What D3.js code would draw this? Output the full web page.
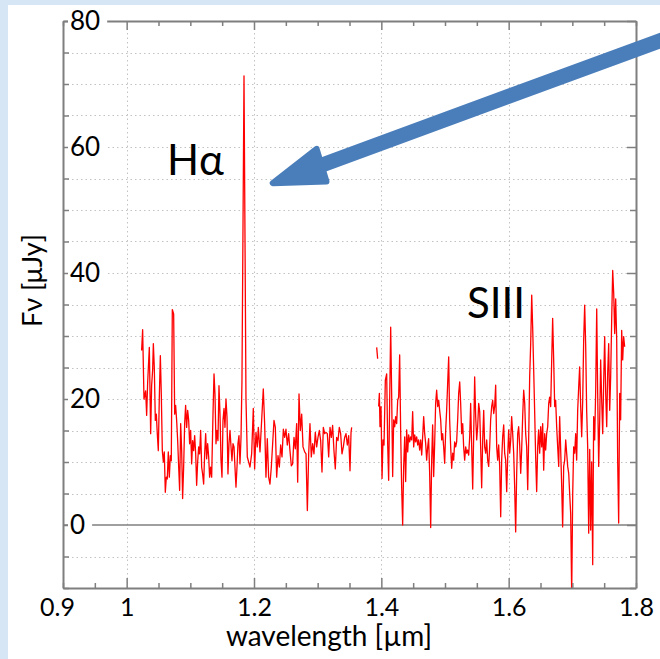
<!DOCTYPE html>
<html>
<head>
<meta charset="utf-8">
<script src="https://cdn.jsdelivr.net/npm/d3@7"></script>
<style>
  body { margin: 0; background: #d7e6f5; }
  svg { display: block; }
</style>
</head>
<body>
<div id="chart"></div>
<script>
const width = 660;
const height = 659;
const margin = { top: 21, right: 24, bottom: 71, left: 63 };

// J-band segment (wavelength in µm, flux in µJy)
const seg1Wl = [1.0235,1.0251,1.0272,1.0298,1.0314,1.0330,1.0356,1.0377,1.0392,1.0408,1.0419,1.0434,1.0450,1.0466,1.0481,1.0497,1.0513,1.0529,1.0544,1.0560,1.0576,1.0591,1.0607,1.0623,1.0638,1.0654,1.0670,1.0686,1.0701,1.0717,1.0738,1.0754,1.0769,1.0785,1.0801,1.0817,1.0832,1.0848,1.0864,1.0879,1.0895,1.0911,1.0926,1.0942,1.0958,1.0974,1.0989,1.1005,1.1021,1.1036,1.1052,1.1068,1.1084,1.1099,1.1115,1.1131,1.1146,1.1162,1.1178,1.1193,1.1209,1.1225,1.1241,1.1256,1.1272,1.1288,1.1303,1.1319,1.1335,1.1356,1.1372,1.1387,1.1403,1.1419,1.1434,1.1450,1.1466,1.1481,1.1497,1.1513,1.1529,1.1544,1.1560,1.1576,1.1591,1.1607,1.1623,1.1639,1.1654,1.1670,1.1686,1.1701,1.1717,1.1733,1.1748,1.1764,1.1780,1.1796,1.1811,1.1843,1.1874,1.1895,1.1916,1.1937,1.1963,1.1989,1.2010,1.2031,1.2052,1.2068,1.2094,1.2120,1.2146,1.2167,1.2188,1.2209,1.2230,1.2251,1.2272,1.2293,1.2314,1.2335,1.2356,1.2377,1.2398,1.2419,1.2440,1.2461,1.2482,1.2502,1.2523,1.2544,1.2565,1.2586,1.2607,1.2628,1.2649,1.2670,1.2686,1.2707,1.2728,1.2749,1.2770,1.2796,1.2817,1.2838,1.2859,1.2879,1.2900,1.2921,1.2942,1.2963,1.2984,1.3005,1.3026,1.3047,1.3068,1.3089,1.3110,1.3131,1.3152,1.3173,1.3194,1.3215,1.3235,1.3256,1.3277,1.3298,1.3319,1.3340,1.3361,1.3382,1.3403,1.3424,1.3445,1.3466,1.3487,1.3508,1.3524,1.3534];
const seg1Flux = [27.7,31.0,20.0,21.3,17.4,22.7,28.2,14.5,22.1,24.6,28.8,25.0,16.6,17.6,14.5,11.8,20.3,26.9,20.8,11.8,10.0,11.6,5.2,7.6,7.3,11.6,7.6,11.0,10.2,34.2,33.5,17.6,19.0,16.6,13.4,9.2,5.5,16.1,11.8,4.2,9.2,16.1,19.0,15.5,18.2,16.6,12.9,15.0,9.7,13.4,11.8,14.2,11.3,6.3,10.0,12.4,11.3,15.0,9.2,8.1,6.5,11.3,14.5,10.5,12.9,10.8,7.6,9.2,7.6,17.6,24.0,20.8,12.9,15.0,13.4,22.1,17.6,10.5,7.6,16.6,18.5,15.5,20.0,17.1,8.1,12.9,15.0,12.4,10.2,12.9,12.4,9.2,6.0,9.2,12.9,14.2,9.7,13.9,22.9,71.3,20.0,10.8,10.0,9.2,11.3,18.5,8.9,14.7,12.4,15.5,11.6,16.6,21.6,16.1,7.6,13.7,7.6,6.5,9.2,12.9,16.6,15.5,7.6,11.0,9.2,12.7,10.8,15.2,13.9,15.2,12.7,14.5,11.8,9.4,9.7,13.9,12.1,16.1,6.8,20.8,15.0,17.6,12.4,11.6,11.3,2.3,11.3,16.1,10.8,12.9,11.3,14.7,12.4,13.9,15.0,13.4,8.4,15.5,14.5,14.7,14.5,10.8,15.5,13.9,15.8,11.8,8.9,13.9,13.4,15.5,14.5,11.3,12.4,13.9,14.5,12.7,14.2,8.6,14.7,15.5];

// H-band segment (null marks a gap in the data)
const seg2Wl = [1.3927,1.3942,1.3950,1.3958,1.3969,1.3979,1.3995,1.4011,1.4026,1.4042,1.4063,1.4084,1.4100,1.4115,1.4131,1.4147,1.4162,1.4178,1.4194,1.4210,1.4225,1.4241,1.4257,1.4272,1.4288,1.4304,1.4319,1.4335,1.4351,1.4367,1.4382,1.4398,1.4414,1.4429,1.4445,1.4461,1.4477,1.4492,1.4508,1.4524,1.4539,1.4555,1.4571,1.4586,1.4602,1.4618,1.4634,1.4649,1.4665,1.4681,1.4696,1.4712,1.4728,1.4743,1.4759,1.4775,1.4791,1.4806,1.4822,1.4838,1.4853,1.4869,1.4885,1.4901,1.4916,1.4932,1.4948,1.4963,1.4979,1.4995,1.5011,1.5026,1.5042,1.5058,1.5073,1.5089,1.5105,1.5121,1.5136,1.5152,1.5168,1.5183,1.5199,1.5215,1.5231,1.5246,1.5262,1.5278,1.5293,1.5309,1.5325,1.5340,1.5356,1.5372,1.5388,1.5403,1.5419,1.5435,1.5450,1.5466,1.5482,1.5498,1.5513,1.5529,1.5545,1.5560,1.5576,1.5592,1.5608,1.5623,1.5639,1.5655,1.5670,1.5686,1.5702,1.5717,1.5733,1.5749,1.5765,1.5780,1.5796,1.5812,1.5827,1.5843,1.5859,1.5875,1.5890,1.5906,1.5922,1.5937,1.5953,1.5969,1.5985,1.6000,1.6016,1.6032,1.6047,1.6063,1.6079,1.6094,1.6110,1.6126,1.6142,1.6157,1.6173,1.6189,1.6204,1.6220,1.6236,1.6252,1.6267,1.6283,1.6299,1.6314,1.6330,1.6346,1.6362,1.6377,1.6393,1.6409,1.6424,1.6440,1.6456,1.6471,1.6487,1.6503,1.6519,1.6534,1.6550,1.6566,1.6581,1.6597,1.6613,1.6629,1.6644,1.6660,1.6676,1.6691,1.6707,1.6723,1.6738,1.6754,1.6770,1.6786,1.6801,1.6817,1.6833,1.6848,1.6864,1.6880,1.6896,1.6911,1.6927,1.6943,1.6958,1.6974,1.6990,1.7006,1.7021,1.7037,1.7053,1.7068,1.7084,1.7100,1.7115,1.7131,1.7147,1.7163,1.7178,1.7194,1.7210,1.7225,1.7241,1.7257,1.7273,1.7288,1.7304,1.7320,1.7335,1.7351,1.7367,1.7383,1.7398,1.7414,1.7430,1.7445,1.7461,1.7477,1.7492,1.7508,1.7524,1.7540,1.7555,1.7571,1.7587,1.7602,1.7618,1.7634,1.7650,1.7665,1.7681,1.7697,1.7712,1.7728,1.7744,1.7759,1.7775,1.7791,1.7806,1.7822];
const seg2Flux = [28.2,26.4,null,18.8,20.9,15.6,18.8,7.4,13.5,12.7,23.0,24.0,12.7,7.1,19.8,31.4,20.9,7.7,16.7,15.6,17.2,16.1,19.8,20.3,27.0,14.5,6.1,0.0,9.3,14.0,6.9,15.1,11.6,14.3,13.2,14.0,13.5,18.0,12.4,14.3,13.2,14.0,12.7,13.5,11.9,13.5,11.1,14.0,17.2,14.5,13.0,10.3,12.4,13.7,8.2,-0.4,10.3,15.9,7.7,13.0,19.3,21.4,18.8,19.8,18.2,16.7,13.5,14.5,12.4,9.8,15.1,18.2,22.5,26.7,16.7,12.4,9.0,11.4,10.3,13.2,12.4,13.2,16.7,20.9,22.7,19.3,14.5,16.1,12.4,10.3,12.4,11.4,11.9,11.1,14.0,19.3,12.4,5.7,14.0,23.5,17.2,13.5,15.6,19.3,18.0,12.4,5.9,13.5,18.2,12.4,11.4,13.5,10.3,9.3,12.4,16.7,18.8,19.8,17.7,18.8,22.2,12.4,10.3,12.7,9.3,1.3,10.3,14.0,15.9,11.4,10.3,5.3,10.8,15.1,11.4,13.5,17.2,14.5,11.4,6.1,-1.1,8.2,14.5,15.6,12.7,8.2,11.9,17.2,21.4,19.3,14.5,12.4,5.6,13.5,23.5,28.8,36.5,31.4,24.6,17.7,10.8,5.3,12.4,15.1,11.4,15.6,12.4,16.1,8.7,14.5,11.9,14.5,15.6,19.3,20.3,18.8,26.2,32.8,26.2,18.8,19.8,15.6,12.4,9.3,17.2,11.9,6.1,-0.3,9.3,10.3,13.5,11.4,9.3,8.2,5.0,1.8,-11.0,5.0,12.4,11.4,14.5,10.3,18.2,21.9,25.1,18.8,14.0,19.8,29.3,34.9,28.3,18.2,12.4,-1.3,12.0,-0.8,10.0,-6.3,17.2,13.5,21.4,34.3,20.9,9.3,16.7,26.2,19.8,14.5,22.5,29.9,20.9,15.6,24.0,28.8,18.2,23.5,32.5,40.4,36.7,30.4,35.9,29.3,10.3,0.3,20.9,16.7,30.9,26.2,29.9,28.3];

const xTickLabels = [0.9, 1, 1.2, 1.4, 1.6, 1.8];
const xGridValues = [1.0, 1.2, 1.4, 1.6];
const yTickLabels = [0, 20, 40, 60, 80];

// annotations in data units: [wavelength, flux]
const lineLabels = [
  { text: "Hα", at: [1.0634, 55.6] },
  { text: "SIII", at: [1.5346, 32.9] },
];
const arrowTip = [1.225, 54.1];
const arrowTail = [1.90, 79.2];

const font = "Lato, 'Open Sans', sans-serif";
const axisColor = "#7f7f7f";

const svg = d3.select("#chart").append("svg")
  .attr("width", width)
  .attr("height", height);

svg.append("rect").attr("width", width).attr("height", height).attr("fill", "#d7e6f5");
svg.append("rect").attr("x", 8).attr("y", 5)
  .attr("width", width - 8).attr("height", height - 5).attr("fill", "#ffffff");

const x = d3.scaleLinear().domain([0.9, 1.8]).range([margin.left, width - margin.right]);
const y = d3.scaleLinear().domain([-10, 80]).range([height - margin.bottom, margin.top]);

const [x0, x1] = x.range();
const [y0, y1] = y.range();

// dotted grid
const grid = svg.append("g").attr("stroke", "#c2c2c2").attr("stroke-width", 1)
  .attr("stroke-dasharray", "1.5,3");
grid.selectAll(".hg").data(d3.range(-5, 80, 5).filter(v => v !== 0)).join("line")
  .attr("x1", x0).attr("x2", x1)
  .attr("y1", d => Math.round(y(d)) + 0.5).attr("y2", d => Math.round(y(d)) + 0.5);
grid.selectAll(".vg").data(xGridValues).join("line")
  .attr("y1", y0).attr("y2", y1)
  .attr("x1", d => Math.round(x(d)) + 0.5).attr("x2", d => Math.round(x(d)) + 0.5);

// zero line
svg.append("line")
  .attr("x1", x0).attr("x2", x1)
  .attr("y1", y(0)).attr("y2", y(0))
  .attr("stroke", axisColor).attr("stroke-width", 1.5);

// spectrum
svg.append("clipPath").attr("id", "plot-clip")
  .append("rect").attr("x", x0).attr("y", y1).attr("width", x1 - x0).attr("height", y0 - y1);

const line = d3.line()
  .defined(d => d[1] !== null)
  .x(d => x(d[0]))
  .y(d => y(d[1]));

const series = [
  d3.zip(seg1Wl, seg1Flux),
  d3.zip(seg2Wl, seg2Flux),
];

svg.append("g").attr("clip-path", "url(#plot-clip)")
  .selectAll("path").data(series).join("path")
  .attr("d", line)
  .attr("fill", "none")
  .attr("stroke", "#ff0000")
  .attr("stroke-width", 1.3)
  .attr("stroke-linejoin", "round");

// axes
const xTicks = d3.range(0, 19).map(i => +(0.9 + i * 0.05).toFixed(2));
const yTicks = d3.range(-10, 81, 5);
const isMajorX = v => xGridValues.some(g => Math.abs(g - v) < 1e-6);

const styleAxis = g => {
  g.select(".domain").attr("stroke", axisColor).attr("stroke-width", 2);
  g.selectAll(".tick line").attr("stroke", axisColor).attr("stroke-width", 1.5);
};

const axisB = svg.append("g")
  .attr("transform", `translate(0,${y0})`)
  .call(d3.axisBottom(x).tickValues(xTicks).tickSizeInner(-5).tickSizeOuter(0).tickPadding(10)
    .tickFormat(d => xTickLabels.some(v => Math.abs(v - d) < 1e-6) ? d3.format("")(d) : ""))
  .call(styleAxis);
axisB.selectAll(".tick line").filter(d => isMajorX(d)).attr("y2", -10);
axisB.selectAll(".tick text")
  .attr("font-family", font).attr("font-size", 25).attr("fill", "#000")
  .attr("dx", d => d === 0.9 ? -6 : 0);

const axisT = svg.append("g")
  .attr("transform", `translate(0,${y1})`)
  .call(d3.axisTop(x).tickValues(xTicks).tickSizeInner(-5).tickSizeOuter(0).tickFormat(""))
  .call(styleAxis);
axisT.selectAll(".tick line").filter(d => isMajorX(d)).attr("y2", 9);

svg.append("g")
  .attr("transform", `translate(${x0},0)`)
  .call(d3.axisLeft(y).tickValues(yTicks).tickSizeInner(-6).tickSizeOuter(0).tickFormat(""))
  .call(styleAxis);

const axisR = svg.append("g")
  .attr("transform", `translate(${x1},0)`)
  .call(d3.axisRight(y).tickValues(yTicks).tickSizeInner(-6).tickSizeOuter(0).tickFormat(""))
  .call(styleAxis);
axisR.selectAll(".tick line").filter(d => d % 20 === 0).attr("x2", -9);

// y tick labels sit inside the frame on a white patch
const yLab = svg.append("g");
yTickLabels.forEach(v => {
  const g = yLab.append("g");
  const bg = g.append("rect").attr("fill", "#fff");
  const t = g.append("text")
    .attr("x", x0 + 7)
    .attr("y", y(v))
    .attr("dy", "0.36em")
    .attr("font-family", font)
    .attr("font-size", 26)
    .text(v);
  const b = t.node().getBBox();
  bg.attr("x", x0 + 5).attr("y", y(v) - 6).attr("width", b.width + 9).attr("height", 12);
});

// axis titles
svg.append("text")
  .attr("x", 329).attr("y", 646)
  .attr("text-anchor", "middle")
  .attr("font-family", font).attr("font-size", 28)
  .text("wavelength [µm]");

svg.append("text")
  .attr("transform", `translate(42,${(y0 + y1) / 2 - 24}) rotate(-90)`)
  .attr("text-anchor", "middle")
  .attr("font-family", font).attr("font-size", 27)
  .text("Fν [μJy]");

// line labels
svg.selectAll(".lbl").data(lineLabels).join("text")
  .attr("x", d => x(d.at[0])).attr("y", d => y(d.at[1]))
  .attr("font-family", font).attr("font-size", 42)
  .text(d => d.text);

// arrow pointing to the H-alpha peak
const tip = [x(arrowTip[0]), y(arrowTip[1])];
const tail = [x(arrowTail[0]), y(arrowTail[1])];
const len = Math.hypot(tail[0] - tip[0], tail[1] - tip[1]);
const u = [(tail[0] - tip[0]) / len, (tail[1] - tip[1]) / len];
const n = [-u[1], u[0]];
const at = (a, p) => [tip[0] + u[0] * a + n[0] * p, tip[1] + u[1] * a + n[1] * p];
const arrowColor = "#4a7ebb";

svg.append("line")
  .attr("x1", at(44, 0)[0]).attr("y1", at(44, 0)[1])
  .attr("x2", tail[0]).attr("y2", tail[1])
  .attr("stroke", arrowColor).attr("stroke-width", 15).attr("stroke-linecap", "round");

svg.append("path")
  .attr("d", d3.line()([at(3, 0), at(54, 17), at(56, -17)]) + "Z")
  .attr("fill", arrowColor)
  .attr("stroke", arrowColor)
  .attr("stroke-width", 6)
  .attr("stroke-linejoin", "round");
</script>
</body>
</html>
